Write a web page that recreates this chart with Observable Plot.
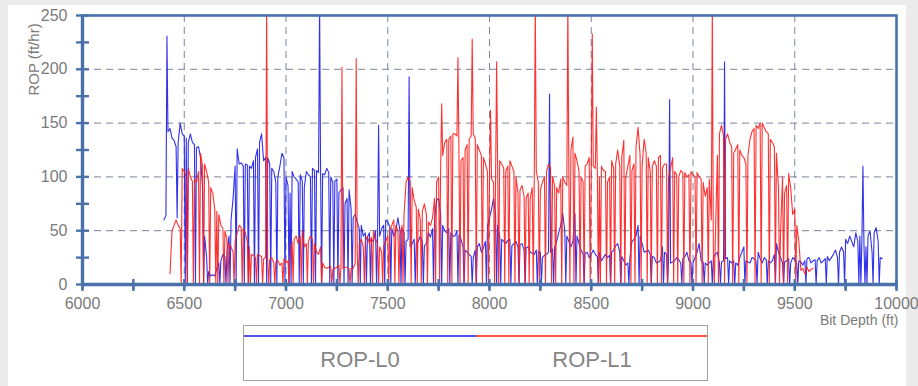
<!DOCTYPE html>
<html><head><meta charset="utf-8">
<script src="https://cdn.jsdelivr.net/npm/d3@7"></script>
<script src="https://cdn.jsdelivr.net/npm/@observablehq/plot@0.6"></script>
<style>
html,body{margin:0;padding:0;background:#ebebeb;width:918px;height:386px;overflow:hidden;font-family:"Liberation Sans",Arial,sans-serif;}
#panel{position:absolute;left:8px;top:5px;width:898px;height:381px;background:#fff;}
#chart{position:absolute;left:0;top:0;}
#legend{position:absolute;left:235px;top:320px;width:465px;height:56px;box-sizing:border-box;border:1.5px solid #a3a3a3;}
#legend .ln{position:absolute;top:9px;height:1.5px;}
#legend .lb{position:absolute;top:21px;font-size:22px;color:#858585;transform:translateX(-50%);white-space:nowrap;}
</style></head>
<body>
<div id="panel"><div id="chart"></div><div id="legend"></div></div>
<script>
const seriesNames = ["ROP-L0", "ROP-L1"];
const seriesColors = ["#1c1ce8", "#ff1c1c"];
const xLabel = "Bit Depth (ft)";
const yLabel = "ROP (ft/hr)";
const xDomain = [6000, 10000];
const yDomain = [0, 250];
const xTickLabels = [6000, 6500, 7000, 7500, 8000, 8500, 9000, 9500, 10000];
const xMinorTicks = [6000, 6250, 6500, 6750, 7000, 7250, 7500, 7750, 8000, 8250, 8500, 8750, 9000, 9250, 9500, 9750, 10000];
const yTickLabels = [0, 50, 100, 150, 200, 250];
const yMinorTicks = [0, 25, 50, 75, 100, 125, 150, 175, 200, 225, 250];
const stepFt = 10;

// ROP-L0 base log, every 10 ft from 6400 ft
const l0Start = 6400;
const l0Values = [
60,64,142,145,136,134,128,132,150,140,
138,136,132,140,132,130,127,128,118,90,
45,25,12,8,9,8,15,20,22,28,
26,30,45,60,80,110,126,112,113,110,
112,111,110,108,115,118,126,132,140,115,
118,118,112,108,105,95,100,110,122,118,
100,92,85,105,100,98,95,102,96,90,
105,102,100,108,106,106,104,104,103,102,
108,104,100,95,96,98,85,88,90,75,
80,88,70,62,65,58,52,55,45,48,
44,48,42,40,50,45,45,52,55,60,
58,54,52,45,50,62,50,52,48,40,
42,35,38,42,38,40,45,40,36,38,
48,44,52,60,78,80,65,55,50,48,
52,48,45,45,50,46,42,35,32,30,
28,26,25,32,35,38,30,34,40,55,
62,70,80,65,55,45,42,40,38,41,
42,36,38,40,35,37,38,32,34,35,
30,29,28,32,31,30,25,27,28,30,
30,33,35,40,48,55,66,50,45,40,
35,40,66,45,38,32,28,29,30,25,
28,32,28,26,30,22,25,28,25,27,
30,32,36,38,30,26,22,18,20,25,
40,42,45,55,45,38,30,31,32,28,
26,25,20,21,22,35,30,28,24,20,
21,22,25,23,20,24,26,30,22,21,
20,25,30,38,22,21,20,18,20,22,
25,28,30,20,21,22,24,25,22,20,
22,20,18,25,30,35,22,21,20,25,
24,22,30,24,20,25,23,22,20,22,
28,38,30,25,20,21,22,24,20,25,
23,20,22,21,18,22,24,25,20,22,
23,22,25,20,22,24,26,22,25,28,
32,25,30,35,30,42,38,45,40,35,
48,40,45,42,38,35,45,50,30,48,
53,40,25,24
];
// depths (ft) where ROP-L0 falls to 0
const l0DropDepths = [6505,6515,6555,6595,6615,6675,6705,6725,6755,6795,6815,6845,6865,6905,6925,6955,6995,7015,7025,7065,7085,7125,7145,7175,7215,7235,7255,7285,7305,7325,7365,7395,7415,7445,7485,7515,7565,7585,7635,7675,7725,7765,7805,7845,7875,7915,7935,7985,8035,8055,8105,8145,8175,8235,8255,8315,8375,8425,8465,8535,8595,8645,8685,8735,8795,8855,8875,8945,8995,9055,9095,9135,9175,9205,9255,9315,9365,9405,9445,9475,9515,9555,9605,9655,9715,9745,9815,9825,9845,9855,9885,9915];
// isolated ROP-L0 peaks / dips
const l0PeakDepths = [6415, 6465, 7165, 7455, 7605, 8295, 8885, 9155, 9835];
const l0PeakValues = [231, 62, 262, 148, 193, 177, 172, 207, 110];

// ROP-L1 base log, every 10 ft from 6430 ft
const l1Start = 6430;
const l1Values = [
10,50,55,60,55,52,108,105,100,108,100,96,98,95,105,122,110,
112,105,95,90,85,70,68,65,55,52,
50,42,38,35,30,40,48,55,53,52,
48,40,35,28,27,25,28,27,26,24,
25,22,23,25,20,21,22,18,20,24,
20,22,25,40,42,45,38,45,50,35,
38,40,45,42,38,30,28,35,20,16,
15,16,17,14,15,16,18,17,15,16,
16,14,15,15,20,30,38,42,35,40,
45,38,44,50,42,38,35,30,36,40,
45,50,55,60,55,50,45,55,65,95,
100,96,90,78,72,70,60,68,75,65,
58,55,62,80,95,100,110,120,132,135,
135,138,140,140,138,120,115,118,125,130,
135,138,140,136,130,125,120,118,112,105,
100,98,95,102,110,115,112,108,105,110,
115,110,105,100,85,88,92,82,80,85,
80,90,100,105,95,88,95,100,105,112,
108,100,92,90,85,98,100,95,92,100,
125,137,122,115,105,100,95,110,112,118,
105,110,108,102,100,110,106,105,95,100,
115,108,112,125,110,118,134,100,110,120,
106,112,128,146,120,110,135,122,118,105,
110,115,110,118,120,108,112,112,100,108,
118,105,102,100,106,104,104,100,102,105,
102,100,104,100,98,95,82,90,98,60,
30,45,120,140,148,138,135,140,132,128,
122,126,130,125,120,118,112,120,135,142,
145,148,145,150,150,146,142,140,135,132,
128,122,90,47,100,85,92,103,90,65,
70,55,40,13,15,10,16,12,14,15
];
// depths (ft) where ROP-L1 falls to 0
const l1DropDepths = [6485,6515,6545,6575,6595,6625,6655,6665,6695,6715,6745,6785,6815,6825,6855,6885,6915,6945,6985,7015,7035,7075,7105,7135,7175,7225,7265,7315,7355,7385,7425,7455,7475,7505,7535,7555,7575,7615,7645,7665,7695,7735,7755,7795,7815,7855,7875,7895,7935,7965,7995,8025,8045,8075,8095,8125,8145,8175,8195,8215,8245,8275,8305,8325,8355,8395,8415,8445,8465,8495,8535,8545,8575,8595,8615,8645,8665,8695,8715,8745,8775,8795,8825,8845,8875,8905,8925,8955,8985,9015,9045,9075,9105,9125,9155,9195,9225,9265,9305,9335,9375,9405,9425,9445,9465,9505];
// isolated ROP-L1 peaks
const l1PeakDepths = [6905, 7275, 7345, 7765, 7845, 7915, 8005, 8035, 8225, 8385, 8505, 8525, 9095];
const l1PeakValues = [262, 202, 210, 168, 211, 228, 162, 207, 262, 262, 233, 165, 262];

function buildSeries(start, values, drops, peakDepths, peakValues) {
  return [
    ...values.map((v, i) => ({depth: start + i * stepFt, rop: v})),
    ...drops.map(d => ({depth: d, rop: 0})),
    ...peakDepths.map((d, i) => ({depth: d, rop: peakValues[i]}))
  ].sort((a, b) => a.depth - b.depth);
}
const l0 = buildSeries(l0Start, l0Values, l0DropDepths, l0PeakDepths, l0PeakValues);
const l1 = buildSeries(l1Start, l1Values, l1DropDepths, l1PeakDepths, l1PeakValues);

const axisColor = "#4a72aa";
const gridColor = "#6f7f9a";
const textColor = "#7a7a7a";

const chart = Plot.plot({
  width: 898, height: 330,
  marginLeft: 74, marginRight: 10, marginTop: 10, marginBottom: 51,
  x: {domain: xDomain, label: null},
  y: {domain: yDomain, label: null},
  style: {background: "transparent", fontFamily: "'Liberation Sans', Arial, sans-serif", overflow: "visible"},
  marks: [
    Plot.gridX(xTickLabels.slice(1, -1), {stroke: gridColor, strokeOpacity: 0.95, strokeWidth: 1, strokeDasharray: "7,5"}),
    Plot.gridY(yTickLabels.slice(1, -1), {stroke: gridColor, strokeOpacity: 0.95, strokeWidth: 1, strokeDasharray: "7,5"}),
    Plot.line(l0, {x: "depth", y: "rop", stroke: seriesColors[0], strokeWidth: 1.1, strokeOpacity: 0.9, clip: true}),
    Plot.line(l1, {x: "depth", y: "rop", stroke: seriesColors[1], strokeWidth: 1.1, strokeOpacity: 0.9, clip: true}),
    Plot.frame({stroke: axisColor, strokeWidth: 2.6}),
    Plot.ruleX([xDomain[0]], {stroke: axisColor, strokeWidth: 3.4}),
    Plot.ruleY([yDomain[0]], {stroke: axisColor, strokeWidth: 3.4}),
    Plot.ruleY(yMinorTicks, {y: d => d, x1: () => xDomain[0], x2: () => xDomain[0], insetLeft: -6, insetRight: -7, stroke: axisColor, strokeWidth: 2.4}),
    Plot.ruleX(xMinorTicks, {x: d => d, y1: () => yDomain[0], y2: () => yDomain[0], insetTop: -5, insetBottom: -5, stroke: axisColor, strokeWidth: 2.4}),
    Plot.axisX(xMinorTicks, {tickSize: 7, tickFormat: () => "", stroke: axisColor, strokeWidth: 2.4, label: null}),
    Plot.axisY(yTickLabels, {tickSize: 0, tickPadding: 15, fontSize: 16, fill: textColor, tickFormat: d => String(d), label: null}),
    Plot.axisX(xTickLabels, {tickSize: 0, tickPadding: 13, fontSize: 16, fill: textColor, tickFormat: d => String(d), label: null}),
    Plot.text([yLabel], {frameAnchor: "top-left", text: d => d, rotate: -90, dx: -54, dy: 44, fontSize: 15, fill: textColor, textAnchor: "middle"}),
    Plot.text([xLabel], {frameAnchor: "bottom-right", text: d => d, dx: 2, dy: 40, fontSize: 14, fill: textColor, textAnchor: "end"})
  ]
});
document.getElementById("chart").appendChild(chart);

const legend = document.getElementById("legend");
const half = 232;
legend.innerHTML =
  `<div class="ln" style="left:0;width:${half}px;background:${seriesColors[0]};opacity:.75"></div>` +
  `<div class="ln" style="left:${half}px;right:0;background:${seriesColors[1]};opacity:.75"></div>` +
  `<div class="lb" style="left:116px">${seriesNames[0]}</div>` +
  `<div class="lb" style="left:348px">${seriesNames[1]}</div>`;
</script>
</body></html>
